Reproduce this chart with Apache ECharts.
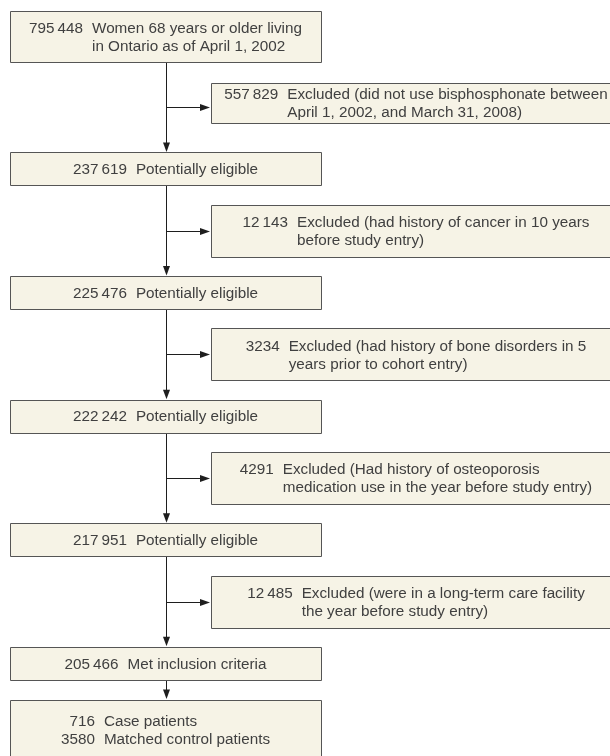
<!DOCTYPE html>
<html><head><meta charset="utf-8">
<script src="https://cdn.jsdelivr.net/npm/echarts@6/dist/echarts.min.js"></script>
<style>html,body{margin:0;padding:0;background:#fff}#c{width:610px;height:756px}</style>
</head><body><div id="c"></div>
<script>
// ---------- data ----------
const mainCounts = [795448, 237619, 225476, 222242, 217951, 205466];
const mainLabels = [
  ['Women 68 years or older living', 'in Ontario as of April 1, 2002'],
  ['Potentially eligible'],
  ['Potentially eligible'],
  ['Potentially eligible'],
  ['Potentially eligible'],
  ['Met inclusion criteria']
];
const exclCounts = [557829, 12143, 3234, 4291, 12485];
const exclLabels = [
  ['Excluded (did not use bisphosphonate between', 'April 1, 2002, and March 31, 2008)'],
  ['Excluded (had history of cancer in 10 years', 'before study entry)'],
  ['Excluded (had history of bone disorders in 5', 'years prior to cohort entry)'],
  ['Excluded (Had history of osteoporosis', 'medication use in the year before study entry)'],
  ['Excluded (were in a long-term care facility', 'the year before study entry)']
];
const finalCounts = [716, 3580];
const finalLabels = ['Case patients', 'Matched control patients'];

// ---------- layout / style ----------
const FONT = 15.25, FAMILY = 'Liberation Sans', TEXT_COLOR = '#404040';
const LINE_H = 18, NUM_GAP = 9;
const MAIN_X0 = 10, MAIN_X1 = 321, STEM_X = 166;
const EXCL_X0 = 211, EXCL_X1 = 621;
const ONE_LINE_H = 33, TWO_LINE_H = 51, FINAL_H = 60;
const EXCL_H = [40, 52, 52, 52, 52], EXCL_DY = [-4, 0, 0, 0, 0];
const FILL = '#f6f3e6', BORDER = '#555', LINE = '#1e1e1e';

function fmt(n) {
  return n >= 10000 ? String(n).replace(/\B(?=(\d{3})+(?!\d))/g, '\u2009') : String(n);
}

// build nodes
const nodes = [];
mainCounts.forEach((c, i) => {
  nodes.push({kind: 'main', idx: i, row: 2 * i,
    lines: mainLabels[i].map((t, k) => ({num: k === 0 ? fmt(c) : '', text: t}))});
  if (i < exclCounts.length) {
    nodes.push({kind: 'excl', idx: i, row: 2 * i + 1,
      lines: exclLabels[i].map((t, k) => ({num: k === 0 ? fmt(exclCounts[i]) : '', text: t}))});
  }
});
nodes.push({kind: 'final', idx: 0, row: 11,
  lines: finalCounts.map((c, k) => ({num: fmt(c), text: finalLabels[k]}))});
const categories = nodes.map((n, i) => 'step' + i);

const mctx = document.createElement('canvas').getContext('2d');
mctx.font = FONT + 'px "' + FAMILY + '"';
const tw = s => mctx.measureText(s).width;

function boxRect(node, api) {
  const cy = api.coord([0, node.row])[1];
  if (node.kind === 'main') {
    const h = node.lines.length > 1 ? TWO_LINE_H : ONE_LINE_H;
    const bottom = cy + ONE_LINE_H / 2;
    return {x0: MAIN_X0, x1: MAIN_X1, y: bottom - h, h: h, cy: cy};
  } else if (node.kind === 'excl') {
    const h = EXCL_H[node.idx];
    return {x0: EXCL_X0, x1: EXCL_X1, y: cy + EXCL_DY[node.idx] - h / 2, h: h, cy: cy};
  } else {
    return {x0: MAIN_X0, x1: MAIN_X1, y: cy - TWO_LINE_H / 2, h: FINAL_H, cy: cy};
  }
}

function renderItem(params, api) {
  const node = nodes[params.dataIndex];
  const r = boxRect(node, api);
  const children = [];
  if (node.kind === 'main') {
    const next = nodes.find(n => n.kind !== 'excl' && n.row > node.row);
    const nr = boxRect(next, api);
    const y0 = r.y + r.h, y1 = nr.y;
    children.push({type: 'line', shape: {x1: STEM_X + 0.5, y1: y0, x2: STEM_X + 0.5, y2: y1 - 6},
      style: {stroke: LINE, lineWidth: 1}});
    children.push({type: 'polygon', shape: {points: [[STEM_X + 0.5 - 3.5, y1 - 10], [STEM_X + 0.5, y1 - 0.5], [STEM_X + 0.5 + 3.5, y1 - 10]]},
      style: {fill: LINE}});
  }
  if (node.kind === 'excl') {
    const ay = Math.round(r.cy) + 0.5;
    children.push({type: 'line', shape: {x1: STEM_X + 0.5, y1: ay, x2: EXCL_X0 - 6, y2: ay},
      style: {stroke: LINE, lineWidth: 1}});
    children.push({type: 'polygon', shape: {points: [[EXCL_X0 - 11, ay - 3.5], [EXCL_X0 - 1, ay], [EXCL_X0 - 11, ay + 3.5]]},
      style: {fill: LINE}});
  }
  children.push({type: 'rect',
    shape: {x: r.x0 + 0.5, y: Math.round(r.y) + 0.5, width: r.x1 - r.x0, height: Math.round(r.h)},
    style: {fill: FILL, stroke: BORDER, lineWidth: 1}});
  const numW = Math.max(...node.lines.map(l => tw(l.num)));
  const txtW = Math.max(...node.lines.map(l => tw(l.text)));
  const blockW = numW + NUM_GAP + txtW;
  const bcx = (r.x0 + r.x1) / 2;
  const labelX = bcx - blockW / 2 + numW + NUM_GAP;
  const bcy = r.y + r.h / 2;
  const n = node.lines.length;
  node.lines.forEach((l, k) => {
    const ly = bcy + (k - (n - 1) / 2) * LINE_H + 1;
    if (l.num) children.push({type: 'text', style: {text: l.num, x: labelX - NUM_GAP, y: ly,
      align: 'right', verticalAlign: 'middle', fill: TEXT_COLOR, fontSize: FONT, fontFamily: FAMILY}});
    children.push({type: 'text', style: {text: l.text, x: labelX, y: ly,
      align: 'left', verticalAlign: 'middle', fill: TEXT_COLOR, fontSize: FONT, fontFamily: FAMILY}});
  });
  return {type: 'group', children: children};
}

const chart = echarts.init(document.getElementById('c'), null, {renderer: 'canvas'});
chart.setOption({
  animation: false,
  backgroundColor: '#fff',
  grid: {left: 0, right: 0, top: 14.5, height: 751.2},
  xAxis: {type: 'value', min: 0, max: 1, show: false},
  yAxis: {type: 'category', data: categories, inverse: true, show: false},
  series: [{
    type: 'custom',
    clip: false,
    renderItem: renderItem,
    data: nodes.map((n, i) => [0, i])
  }]
});
</script>
</body></html>
